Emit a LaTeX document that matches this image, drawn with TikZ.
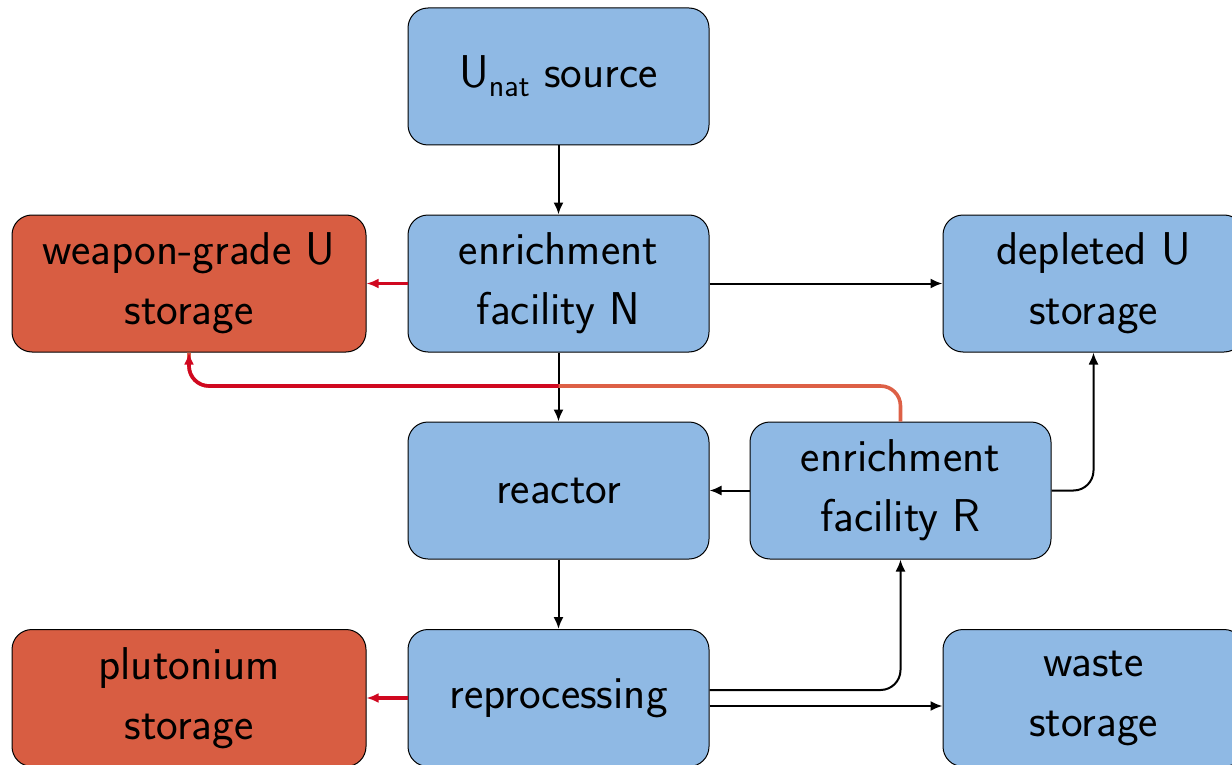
\documentclass[tikz,border=0pt]{standalone}
\usepackage{tikz}
\usetikzlibrary{arrows.meta}
\definecolor{boxblue}{RGB}{143,185,228}
\definecolor{boxred}{RGB}{216,93,66}
\definecolor{flowred}{RGB}{208,8,32}
\definecolor{floworange}{RGB}{221,96,70}
\tikzset{
  fac/.style={draw=black,line width=0.5pt,fill=boxblue,rounded corners=10pt,minimum width=150.5pt,minimum height=68.5pt,inner sep=0pt,align=center,font=\sffamily\fontsize{23}{30}\selectfont},
  stor/.style={fac,fill=boxred,minimum width=177pt},
  flow/.style={line width=1pt,-{Latex[length=6pt,width=5pt]}},
  divert/.style={line width=1.8pt,flowred,-{Latex[length=6pt,width=5pt]}},
  fromR/.style={line width=1.8pt,floworange}
}
\begin{document}
\begin{tikzpicture}[x=0.5pt,y=-0.5pt]
      \useasboundingbox (0,0) rectangle (1232,765);
      \node[fac] (src) at (558.5,76.5) {U\raisebox{-4.5pt}{\fontsize{16}{16}\selectfont nat}\ source};
      \node[stor] (wU) at (189,283.5) {weapon-grade U\\storage};
      \node[fac] (nN) at (558.5,283.5) {enrichment\\facility N};
      \node[fac] (dU) at (1093.5,283.5) {depleted U\\storage};
      \node[fac] (reac) at (558.5,490.5) {reactor};
      \node[fac] (eR) at (900.5,490.5) {enrichment\\facility R};
      \node[stor] (pu) at (189,698) {plutonium\\storage};
      \node[fac] (rep) at (558.5,698) {reprocessing};
      \node[fac] (wS) at (1093.5,698) {waste\\storage};
      \coordinate (jn) at (558.5,386);
      \draw[flow] (src) -- (nN);
      \draw[divert] (nN) -- (wU);
      \draw[flow] (nN) -- (dU);
      \draw[flow] (nN) -- (reac);
      \draw[fromR,rounded corners=10pt] (eR.north) |- (jn) -| (wU.south);
      \draw[divert,rounded corners=10pt] (jn) -| (wU.south);
      \draw[flow] (eR) -- (reac);
      \draw[flow,rounded corners=10pt] (eR.east) -| (dU.south);
      \draw[flow] (reac) -- (rep);
      \draw[divert] (rep) -- (pu);
      \draw[flow,rounded corners=10pt] ([yshift=4pt]rep.east) -| (eR.south);
      \draw[flow] ([yshift=-4pt]rep.east) -- ([yshift=-4pt]wS.west);
    \end{tikzpicture}
\end{document}
